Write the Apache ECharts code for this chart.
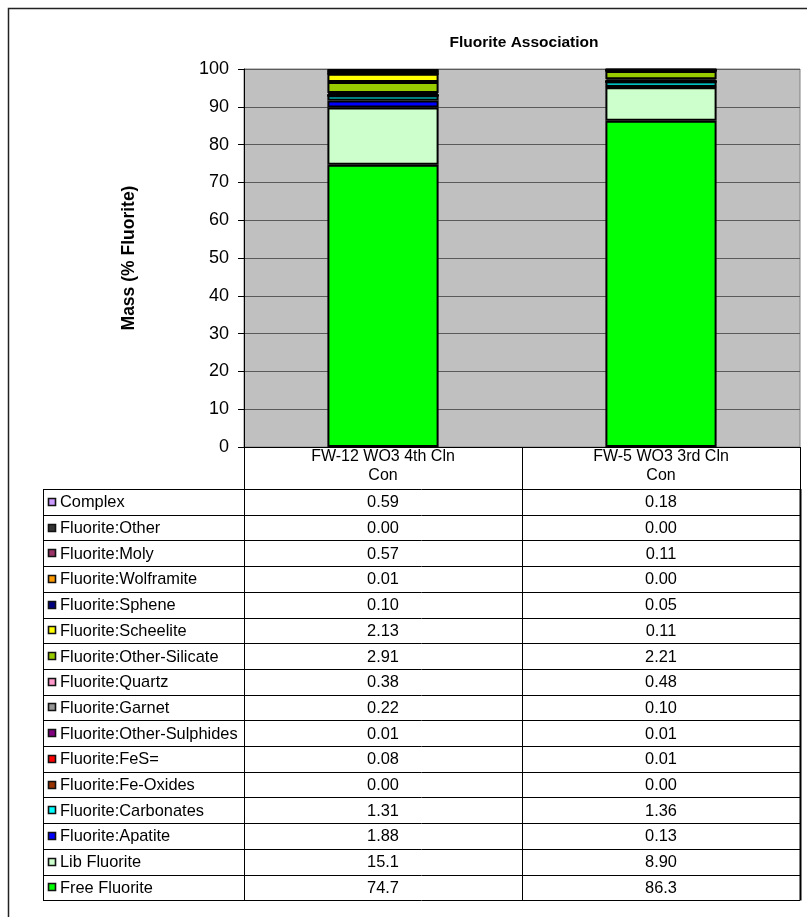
<!DOCTYPE html>
<html>
<head>
<meta charset="utf-8">
<script src="https://cdn.jsdelivr.net/npm/echarts@6/dist/echarts.min.js"></script>
<style>
  html, body { margin: 0; padding: 0; background: #fff; }
  #chart { width: 807px; height: 917px; }
</style>
</head>
<body>
<div id="chart"></div>
<script>
// Samples along the x axis
const categories = ['FW-12 WO3 4th Cln\nCon', 'FW-5 WO3 3rd Cln\nCon'];

// Association classes, listed from the bottom of each stack upwards
const classNames = [
  'Free Fluorite', 'Lib Fluorite', 'Fluorite:Apatite', 'Fluorite:Carbonates',
  'Fluorite:Fe-Oxides', 'Fluorite:FeS=', 'Fluorite:Other-Sulphides', 'Fluorite:Garnet',
  'Fluorite:Quartz', 'Fluorite:Other-Silicate', 'Fluorite:Scheelite', 'Fluorite:Sphene',
  'Fluorite:Wolframite', 'Fluorite:Moly', 'Fluorite:Other', 'Complex'
];

// Mass % per class, same order as classNames
const fw12Values = [74.7, 15.1, 1.88, 1.31, 0.00, 0.08, 0.01, 0.22, 0.38, 2.91, 2.13, 0.10, 0.01, 0.57, 0.00, 0.59];
const fw5Values  = [86.3, 8.90, 0.13, 1.36, 0.00, 0.01, 0.01, 0.10, 0.48, 2.21, 0.11, 0.05, 0.00, 0.11, 0.00, 0.18];

const classColors = [
  '#00FF00', '#CCFFCC', '#0000FF', '#00FFFF',
  '#993300', '#FF0000', '#800080', '#969696',
  '#FF99CC', '#99CC00', '#FFFF00', '#000080',
  '#FF9900', '#993366', '#333333', '#CC99FF'
];

const yTicks = { min: 0, max: 100, interval: 10 };

// Layout of the plot and its data table
const plotLeft = 244, plotRight = 800, plotTop = 69, plotBottom = 447;
const tableLeft = 43, headerBottom = 489, rowH = 25.7;
const FONT = 'Arial, "Liberation Sans", sans-serif';

function fmt(v) { return v >= 10 ? v.toFixed(1) : v.toFixed(2); }

const seriesValues = [fw12Values, fw5Values];

const series = classNames.map((name, i) => ({
  name: name,
  type: 'bar',
  stack: 'total',
  barWidth: '40%',
  data: seriesValues.map(vals => vals[i]),
  itemStyle: { color: classColors[i], borderColor: '#000', borderWidth: 2 },
  emphasis: { disabled: true },
  animation: false
}));

// Data table under the plot: one row per class, top row is the last stacked class
const graphics = [];
const colW = (plotRight - plotLeft) / categories.length;
const rows = classNames.map((n, i) => i).reverse();
const tableBottom = headerBottom + rows.length * rowH;

// Outer chart frame
graphics.push({
  type: 'rect', silent: true,
  shape: { x: 8.5, y: 8.5, width: 1000, height: 1000 },
  style: { fill: 'none', stroke: '#222', lineWidth: 1.5 }
});

for (let r = 0; r <= rows.length; r++) {
  const y = Math.round(headerBottom + r * rowH) + 0.5;
  graphics.push({
    type: 'line', silent: true,
    shape: { x1: tableLeft, y1: y, x2: plotRight, y2: y },
    style: { stroke: '#000', lineWidth: 1 }
  });
}
[tableLeft, plotLeft, plotLeft + colW, plotRight].forEach((x, k) => {
  const xx = Math.round(x) + 0.5;
  graphics.push({
    type: 'line', silent: true,
    shape: { x1: xx, y1: headerBottom, x2: xx, y2: Math.round(tableBottom) + 0.5 },
    style: { stroke: '#000', lineWidth: k === 3 ? 2 : 1 }
  });
});

rows.forEach((ci, r) => {
  const yc = headerBottom + r * rowH + rowH / 2;
  graphics.push({
    type: 'rect', silent: true,
    shape: { x: 48.5, y: Math.round(yc - 4) + 0.5, width: 7, height: 7 },
    style: { fill: classColors[ci], stroke: '#111', lineWidth: 1.6 }
  });
  graphics.push({
    type: 'text', silent: true,
    style: {
      text: classNames[ci], x: 60, y: yc + 1,
      fill: '#000', font: '16.4px ' + FONT,
      textAlign: 'left', textVerticalAlign: 'middle'
    }
  });
  seriesValues.forEach((vals, c) => {
    graphics.push({
      type: 'text', silent: true,
      style: {
        text: fmt(vals[ci]), x: plotLeft + colW * (c + 0.5), y: yc + 1,
        fill: '#000', font: '16.4px ' + FONT,
        textAlign: 'center', textVerticalAlign: 'middle'
      }
    });
  });
});

const chart = echarts.init(document.getElementById('chart'), null, { renderer: 'canvas' });
chart.setOption({
  animation: false,
  backgroundColor: '#fff',
  title: {
    text: 'Fluorite Association',
    left: 519, top: 30, textAlign: 'center',
    textStyle: { fontFamily: FONT, fontWeight: 'bold', fontSize: 15.5, color: '#000' }
  },
  grid: {
    left: plotLeft, top: plotTop,
    width: plotRight - plotLeft, height: plotBottom - plotTop,
    show: true, backgroundColor: '#C0C0C0', borderColor: '#808080', borderWidth: 1
  },
  xAxis: {
    type: 'category',
    data: categories,
    axisLine: { show: true, lineStyle: { color: '#000', width: 1 } },
    axisTick: { show: true, length: headerBottom - plotBottom, lineStyle: { color: '#000' } },
    axisLabel: {
      color: '#000', fontFamily: FONT, fontSize: 16, lineHeight: 19, margin: 0
    }
  },
  yAxis: {
    type: 'value',
    min: yTicks.min, max: yTicks.max, interval: yTicks.interval,
    name: 'Mass (% Fluorite)',
    nameLocation: 'middle', nameRotate: 90, nameGap: 106,
    nameTextStyle: { fontFamily: FONT, fontWeight: 'bold', fontSize: 17.5, color: '#000' },
    axisLine: { show: true, lineStyle: { color: '#000', width: 1 } },
    axisTick: { show: true, length: 6, lineStyle: { color: '#000' } },
    axisLabel: { color: '#000', fontFamily: FONT, fontSize: 18, margin: 15 },
    splitLine: { show: true, lineStyle: { color: '#5a5a5a', width: 1 } }
  },
  series: series,
  graphic: graphics
});
</script>
</body>
</html>
